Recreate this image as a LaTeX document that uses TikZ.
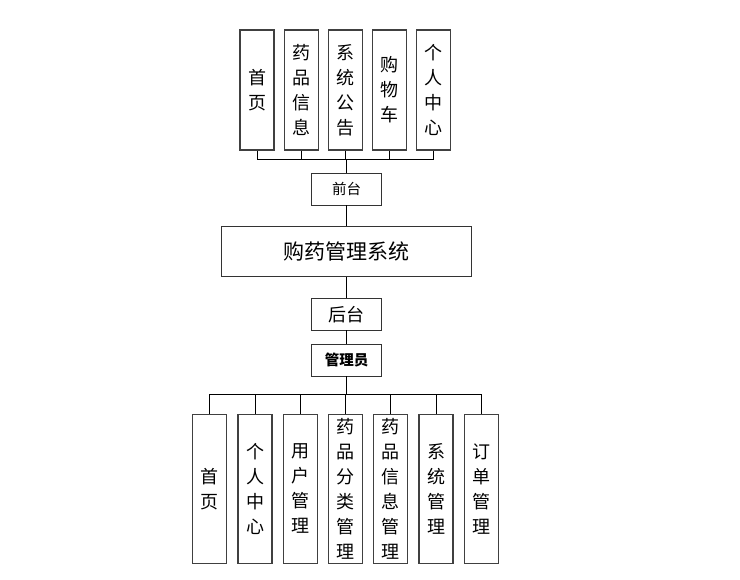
\documentclass[tikz,border=0pt]{standalone}
\usepackage{fontspec}
\setmainfont{Noto Sans CJK SC}
\newfontfamily\cjkb[BoldFont={Noto Sans CJK SC Bold}]{Noto Sans CJK SC}
\begin{document}
\begin{tikzpicture}[x=1pt,y=-1pt,
  vbox/.style={draw=black!75,line width=1.1pt,minimum width=34pt,inner sep=0pt,align=center,
     font=\fontsize{18}{25}\selectfont},
  hbox/.style={draw=black!80,line width=0.9pt,inner sep=0pt,align=center},
  conn/.style={draw=black,line width=0.8pt}]
\useasboundingbox (0,0) rectangle (740,580);
% top modules
\foreach \n/\x/\t in {t1/257/{首\\页},t2/301.3/{药\\品\\信\\息},t3/345.3/{系\\统\\公\\告},t4/389.7/{购\\物\\车},t5/433.7/{个\\人\\中\\心}}
  \node[vbox,minimum height=120pt] (\n) at (\x,90) {\t};
\node[hbox,minimum width=70pt,minimum height=31.7pt,font=\fontsize{14.5}{16}\selectfont] (front) at (346.7,189.2) {前台};
\node[hbox,minimum width=250.7pt,minimum height=50pt,font=\fontsize{21}{24}\selectfont] (sys) at (346.3,251.7) {购药管理系统};
\node[hbox,minimum width=70pt,minimum height=31.7pt,font=\fontsize{18}{20}\selectfont] (back) at (346.7,314.2) {后台};
\node[hbox,minimum width=70pt,minimum height=31.7pt,font=\fontsize{14.5}{16}\selectfont\bfseries] (admin) at (346.7,360.2) {管理员};
% bottom modules
\foreach \n/\x/\t in {b1/209.7/{首\\页},b2/255/{个\\人\\中\\心},b3/300.2/{用\\户\\管\\理},b4/345.5/{药\\品\\分\\类\\管\\理},b5/390.7/{药\\品\\信\\息\\管\\理},b6/436/{系\\统\\管\\理},b7/481.2/{订\\单\\管\\理}}
  \node[vbox,minimum height=149pt] (\n) at (\x,488.8) {\t};
% connectors top
\coordinate (busT) at (346.7,159.3);
\foreach \n in {t1,t2,t3,t4,t5}
  \draw[conn] (\n.south) -- (\n.south |- busT);
\draw[conn] (t1.south |- busT) -- (t5.south |- busT);
\draw[conn] (busT) -- (front.north);
\draw[conn] (front.south) -- (sys.north -| front.south);
\draw[conn] (sys.south -| back.north) -- (back.north);
\draw[conn] (back.south) -- (admin.north);
% connectors bottom
\coordinate (busB) at (346.7,394.3);
\draw[conn] (admin.south) -- (busB);
\draw[conn] (b1.north |- busB) -- (b7.north |- busB);
\foreach \n in {b1,b2,b3,b4,b5,b6,b7}
  \draw[conn] (\n.north |- busB) -- (\n.north);
\end{tikzpicture}
\end{document}
